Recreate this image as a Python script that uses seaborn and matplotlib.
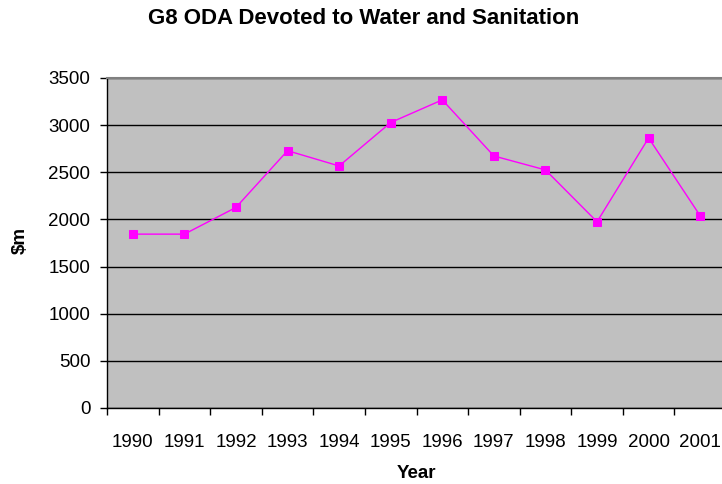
import matplotlib
matplotlib.use("Agg")
import matplotlib.pyplot as plt
import numpy as np
import pandas as pd
import seaborn as sns

# G8 ODA devoted to water and sanitation, $m
years = ["1990", "1991", "1992", "1993", "1994", "1995",
         "1996", "1997", "1998", "1999", "2000", "2001"]
oda_values = [1844, 1844, 2127, 2729, 2567, 3028,
              3268, 2673, 2525, 1975, 2864, 2038]
y_ticks = [0, 500, 1000, 1500, 2000, 2500, 3000, 3500]

sns.set_style("white")
plt.rcParams["font.family"] = ["Liberation Sans", "DejaVu Sans"]
plt.rcParams["text.color"] = "black"

df = pd.DataFrame({"pos": np.arange(len(years)), "value": oda_values})

fig = plt.figure(figsize=(7.22, 4.84), dpi=100)
ax = fig.add_axes([107 / 722, 1 - 408 / 484, 619 / 722, 330 / 484])
ax.set_facecolor("#c0c0c0")

sns.lineplot(data=df, x="pos", y="value", ax=ax, color="#ff00ff",
             linewidth=1.0, marker="s", markersize=6,
             markeredgecolor="#ff00ff", markerfacecolor="#ff00ff")

ax.set_xlim(-0.5, len(years) - 0.5)
ax.set_ylim(0, 3500)
ax.set_yticks(y_ticks)
ax.set_yticklabels([str(t) for t in y_ticks], fontsize=13.5)
ax.set_xticks(np.arange(len(years)))
ax.set_xticklabels(years, fontsize=13.5)
ax.set_xticks(np.arange(len(years) + 1) - 0.5, minor=True)

ax.tick_params(axis="x", which="major", bottom=True, length=0, pad=18.5, labelcolor="black")
ax.tick_params(axis="x", which="minor", bottom=True, length=5, width=1,
               color="black", direction="out")
ax.tick_params(axis="y", which="major", left=True, length=5, width=1,
               color="black", direction="out", pad=7, labelcolor="black")

ax.yaxis.grid(True, color="black", linewidth=1.0)
ax.set_axisbelow(True)

for side in ["left", "bottom"]:
    ax.spines[side].set_color("black")
    ax.spines[side].set_linewidth(1.0)
ax.spines["top"].set_color("#808080")
ax.spines["top"].set_linewidth(1.5)
ax.spines["right"].set_visible(False)

ax.set_xlabel("")
ax.set_ylabel("")
fig.text(416 / 722, 1 - 474 / 484, "Year", ha="center", va="center",
         fontsize=13.5, fontweight="bold")
fig.text(20 / 722, 1 - 240 / 484, "$m", ha="center", va="center",
         rotation=90, fontsize=13.5, fontweight="bold")
fig.text(364 / 722, 1 - 18 / 484, "G8 ODA Devoted to Water and Sanitation",
         ha="center", va="center", fontsize=16, fontweight="bold")

fig.savefig("out.png", dpi=100)
